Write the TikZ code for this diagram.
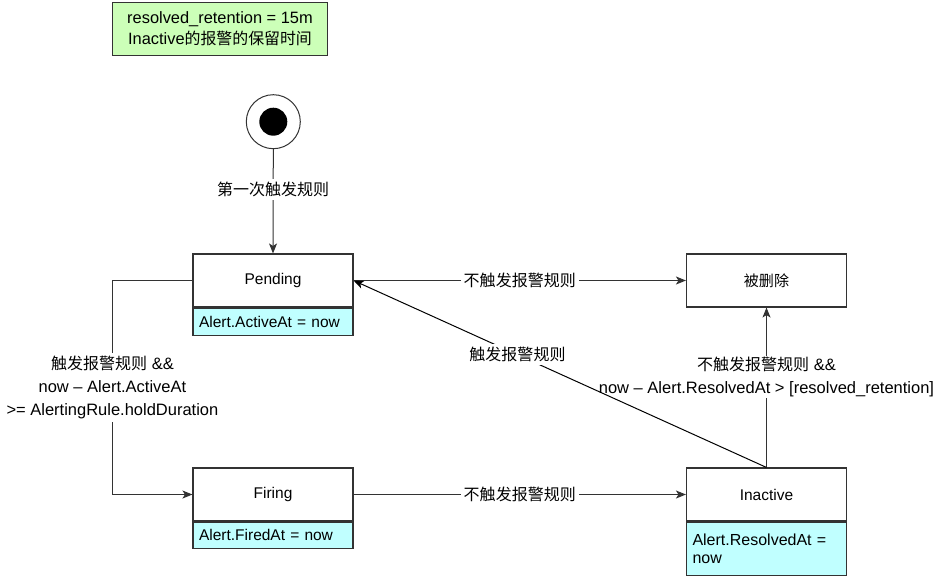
\documentclass[tikz,border=0pt]{standalone}
\usepackage{fontspec}
\setmainfont{Liberation Sans}
\newfontfamily\cjk[Scale=0.97]{Noto Sans CJK SC}
\usetikzlibrary{arrows.meta}
\definecolor{linec}{HTML}{333333}
\definecolor{notegreen}{HTML}{CCFFB8}
\definecolor{attrcyan}{HTML}{C0FFFF}
\tikzset{
  headbox/.style={draw=linec, fill=white, line width=1.1pt, minimum width=160pt, minimum height=53pt, inner sep=0pt},
  attrbox/.style={draw=linec, fill=attrcyan, line width=1.1pt, text width=148pt, inner xsep=6pt, inner ysep=0pt, align=left, anchor=north},
  arr/.style={draw=linec, line width=1pt, -{Stealth[length=10pt,width=8pt,inset=2.5pt]}},
  lbl/.style={fill=white, inner sep=3pt, align=center, font=\fontsize{16.5}{23}\selectfont},
}
\begin{document}
\begin{tikzpicture}[x=1pt,y=-1pt, font=\fontsize{15.5}{23}\selectfont]
\useasboundingbox (0,0) rectangle (944,576);
% note
\node[draw=linec, fill=notegreen, line width=1.1pt, minimum width=215pt, minimum height=53pt, inner sep=0pt, align=center,
      font=\fontsize{16.4}{21}\selectfont] (note) at (220,29) {resolved\_retention = 15m\\Inactive{\cjk 的报警的保留时间}};
% start
\node[circle, draw=linec, fill=white, line width=1pt, minimum size=54pt, inner sep=0pt] (start) at (273.3,121.7) {};
\node[circle, fill=black, minimum size=28pt, inner sep=0pt] (startdot) at (start.center) {};
% states
\node[headbox] (pend) at (273,280.5) {Pending};
\node[attrbox, minimum height=27pt] (penda) at (pend.south) {Alert.ActiveAt = now};
\node[headbox] (del) at (766.5,280.5) {\cjk 被删除};
\node[headbox] (fir) at (273,494.5) {Firing};
\node[attrbox, minimum height=26pt] (fira) at (fir.south) {Alert.FiredAt = now};
\node[headbox] (inac) at (766.5,494.5) {Inactive};
\node[attrbox, minimum height=53pt, font=\fontsize{16}{17.5}\selectfont] (inaca) at (inac.south) {Alert.ResolvedAt =\\now};
% edges
\draw[arr] (start.south) -- node[lbl, pos=0.39] {\cjk 第一次触发规则} (pend.north);
\draw[arr] (pend.east) -- node[lbl] {\cjk 不触发报警规则} (del.west);
\draw[arr] (fir.east) -- node[lbl] {\cjk 不触发报警规则} (inac.west);
\draw[arr] (pend.west) -- ++(-80,0) |- node[lbl, pos=0.25] {{\cjk 触发报警规则} \&\&\\now -- Alert.ActiveAt\\>= AlertingRule.holdDuration} (fir.west);
\draw[arr] (inac.north) -- node[lbl, pos=0.565, inner ysep=1pt] {{\cjk 不触发报警规则} \&\&\\now -- Alert.ResolvedAt > [resolved\_retention]} (del.south);
\draw[arr, draw=black] (inac.north) -- node[lbl, pos=0.603] {\cjk 触发报警规则} (pend.east);
\end{tikzpicture}
\end{document}
